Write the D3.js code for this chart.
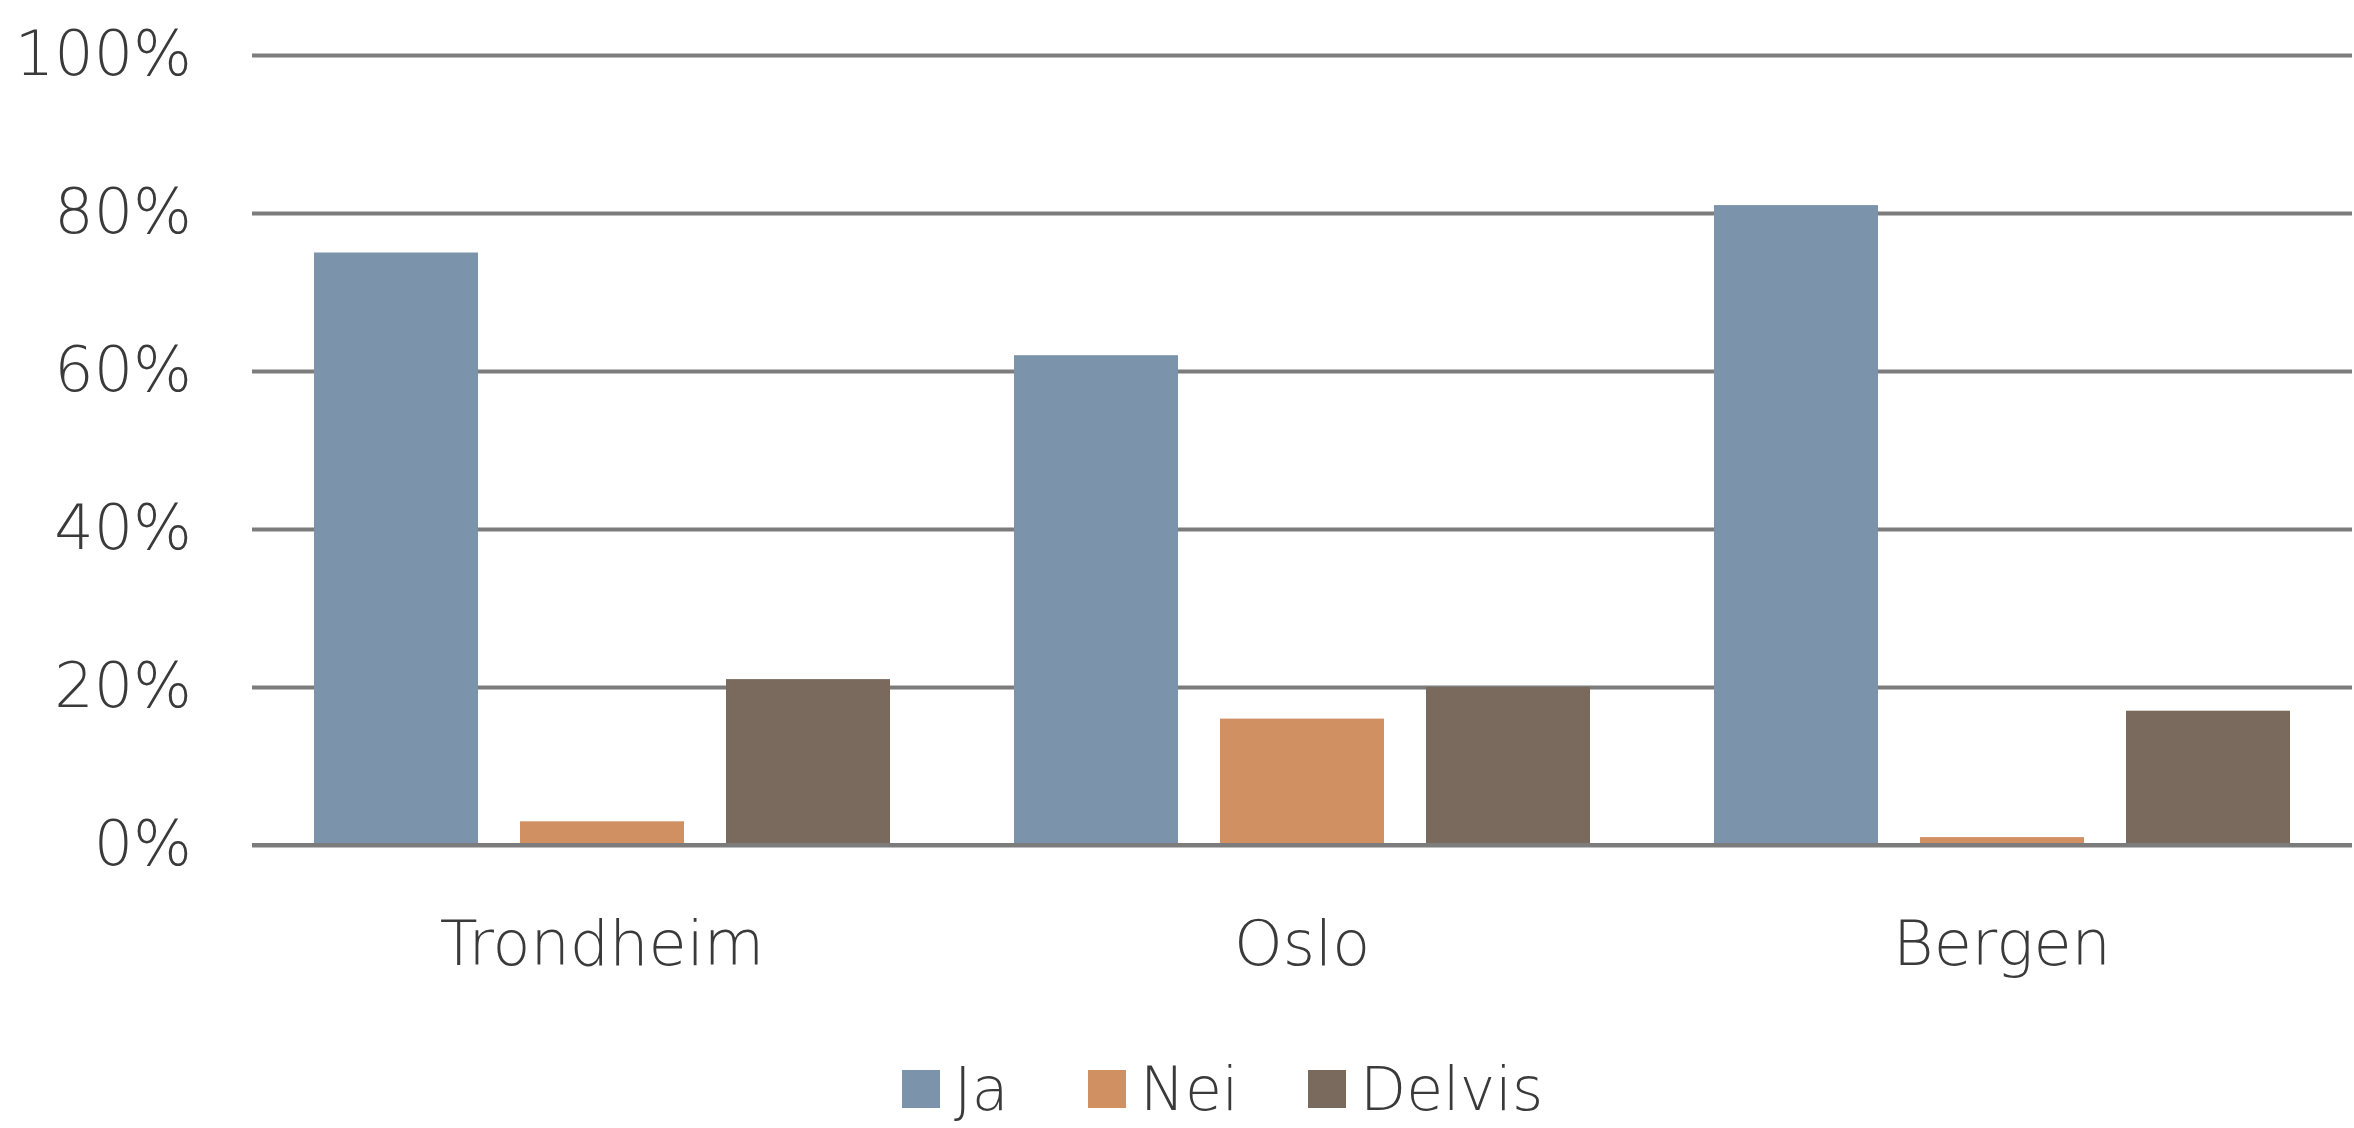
<!DOCTYPE html>
<html>
<head>
<meta charset="utf-8">
<script src="https://d3js.org/d3.v7.min.js"></script>
<style>
  body { margin: 0; background: #ffffff; }
  svg { display: block; }
</style>
</head>
<body>
<svg id="chart" width="2354" height="1128"></svg>
<script>
  "use strict";

  // data
  const cities = ["Trondheim", "Oslo", "Bergen"];
  const series = ["Ja", "Nei", "Delvis"];
  const ja = [75, 62, 81];
  const nei = [3, 16, 1];
  const delvis = [21, 20, 17];
  const yTicks = [0, 20, 40, 60, 80, 100];
  const colors = ["#7b93ab", "#d09062", "#7a6a5e"];

  const values = [ja, nei, delvis];
  const rows = cities.map((c, i) => ({
    city: c,
    vals: series.map((s, j) => ({ key: s, value: values[j][i] }))
  }));

  const PLOT_LEFT = 252;
  const PLOT_RIGHT = 2352;
  const PLOT_TOP = 55;
  const PLOT_BOTTOM = 845;
  const FONT = "'DejaVu Sans ExtraLight', 'DejaVu Sans', sans-serif";
  const FONT_WEIGHT = 200;
  const TEXT_COLOR = "#3a3a3a";

  const svg = d3.select("#chart");

  const x0 = d3.scaleBand()
    .domain(cities)
    .range([PLOT_LEFT, PLOT_RIGHT]);

  const x1 = d3.scaleBand()
    .domain(series)
    .range([62, x0.bandwidth() - 62])
    .paddingInner(0.204);

  const y = d3.scaleLinear()
    .domain([0, 100])
    .range([PLOT_BOTTOM, PLOT_TOP]);

  const color = d3.scaleOrdinal().domain(series).range(colors);

  // gridlines + y labels
  const yAxis = d3.axisLeft(y)
    .tickValues(yTicks)
    .tickSize(-(PLOT_RIGHT - PLOT_LEFT))
    .tickPadding(60)
    .tickFormat(d => d + "%");

  const gy = svg.append("g")
    .attr("transform", `translate(${PLOT_LEFT},0)`)
    .call(yAxis);
  gy.select(".domain").remove();
  gy.selectAll(".tick line")
    .attr("stroke", "#7c7c7c")
    .attr("stroke-width", 4);
  gy.selectAll(".tick text")
    .attr("font-family", FONT)
    .attr("font-weight", FONT_WEIGHT)
    .attr("font-size", 62)
    .attr("fill", TEXT_COLOR);

  // bars
  svg.append("g")
    .selectAll("g")
    .data(rows)
    .join("g")
    .attr("transform", d => `translate(${x0(d.city)},0)`)
    .selectAll("rect")
    .data(d => d.vals)
    .join("rect")
    .attr("x", d => x1(d.key))
    .attr("y", d => y(d.value))
    .attr("width", x1.bandwidth())
    .attr("height", d => y(0) - y(d.value))
    .attr("fill", d => color(d.key));

  // baseline on top of bars
  svg.append("line")
    .attr("x1", PLOT_LEFT)
    .attr("x2", PLOT_RIGHT)
    .attr("y1", y(0))
    .attr("y2", y(0))
    .attr("stroke", "#7c7c7c")
    .attr("stroke-width", 4);

  // category labels
  const xAxis = d3.axisBottom(x0).tickSize(0).tickPadding(76);
  const gx = svg.append("g")
    .attr("transform", `translate(0,${PLOT_BOTTOM})`)
    .call(xAxis);
  gx.select(".domain").remove();
  gx.selectAll(".tick text")
    .attr("font-family", FONT)
    .attr("font-weight", FONT_WEIGHT)
    .attr("font-size", 62)
    .attr("fill", TEXT_COLOR);

  // legend
  const legendX = [902, 1088, 1308];
  const legend = svg.append("g")
    .selectAll("g")
    .data(series)
    .join("g")
    .attr("transform", (d, i) => `translate(${legendX[i]},1070)`);

  legend.append("rect")
    .attr("width", 38)
    .attr("height", 38)
    .attr("fill", d => color(d));

  legend.append("text")
    .attr("x", 52)
    .attr("y", 40)
    .attr("font-family", FONT)
    .attr("font-weight", FONT_WEIGHT)
    .attr("font-size", 60)
    .attr("fill", TEXT_COLOR)
    .text(d => d);
</script>
</body>
</html>
